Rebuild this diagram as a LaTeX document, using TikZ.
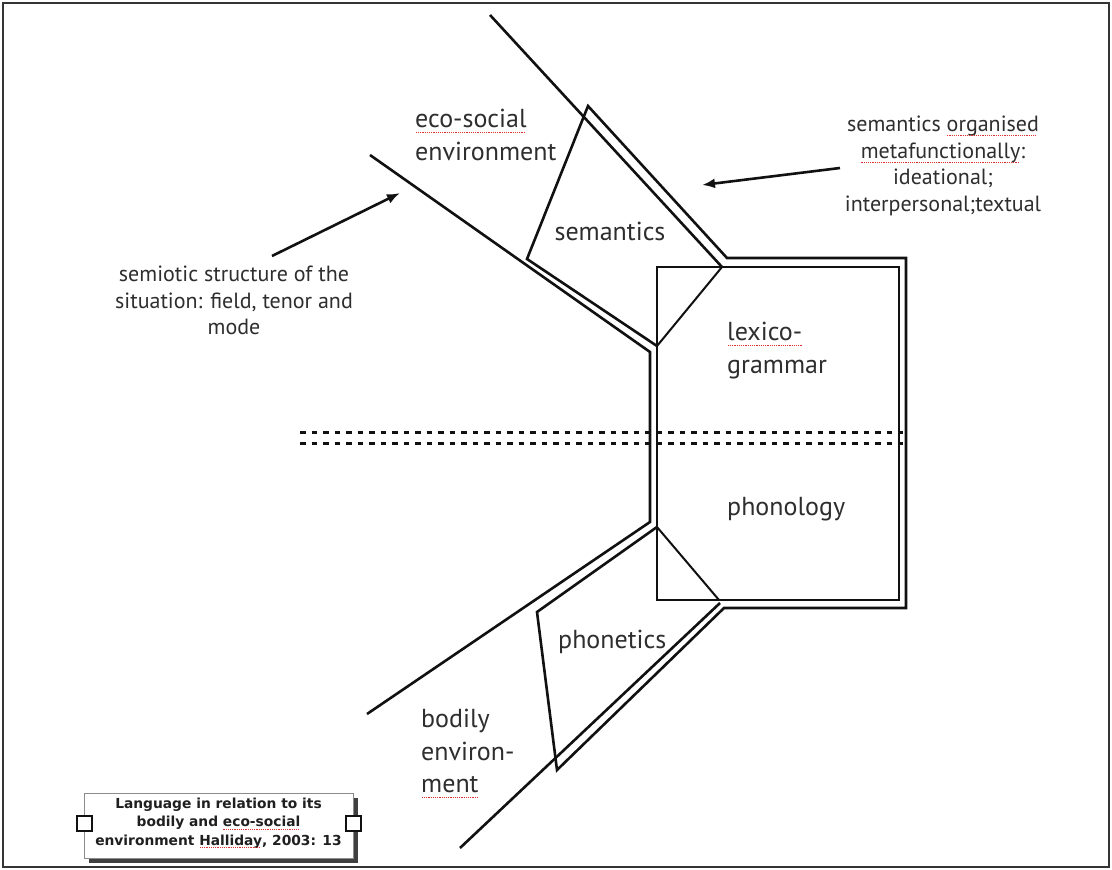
\documentclass[tikz,border=0pt]{standalone}
\usepackage{fontspec}
\setmainfont{PT Sans}
\newfontfamily\capfont{DejaVu Sans}
\usetikzlibrary{arrows.meta}
\definecolor{ink}{HTML}{111111}
\definecolor{txt}{HTML}{2E2E2E}
\definecolor{spellred}{HTML}{E03030}
\newsavebox\spellbox
% red dotted underline as left by a spell checker
\newcommand\misspelt[1]{\sbox\spellbox{#1}\rlap{\usebox\spellbox}\raisebox{-0.2em}{\textcolor{spellred}{\hbox to \wd\spellbox{\leaders\hbox to 2.2pt{\hss\rule{1.2pt}{0.8pt}\hss}\hfill}}}}
\tikzset{
  wall/.style={draw=ink, line width=2.6pt, line join=miter},
  thin/.style={draw=ink, line width=2pt},
  strata/.style={draw=ink, line width=3pt, dash pattern=on 5.5pt off 6pt},
  pointer/.style={draw=ink, line width=2.6pt, -{Latex[length=13pt,width=10pt]}},
  big/.style={inner sep=0pt, text=txt, font=\fontsize{26}{32.5}\selectfont},
  small/.style={inner sep=0pt, text=txt, font=\fontsize{22}{26.5}\selectfont, align=center},
  handle/.style={draw=ink, fill=white, line width=1.2pt},
}
\begin{document}
\begin{tikzpicture}[x=1pt,y=-1pt]
\useasboundingbox (0,0) rectangle (1112,870);
\fill[white] (0,0) rectangle (1112,870);
% frame
\draw[draw=ink!85, line width=1.6pt] (3,3) rectangle (1109,867);

% key points of the funnel
\coordinate (semL) at (527,259);
\coordinate (semTop) at (588,106);
\coordinate (semR) at (727,258);
\coordinate (boxTR) at (906,258);
\coordinate (boxBR) at (906,608);
\coordinate (phonR) at (724,608);
\coordinate (phonBot) at (557,770);
\coordinate (phonL) at (537,612);
\coordinate (midTop) at (657,346);
\coordinate (midBot) at (657,527);

% outer double wall, running round both quadrilaterals
\draw[wall] (midBot) -- (phonL) -- (phonBot) -- (phonR) -- (boxBR) -- (boxTR)
   -- (semR) -- (semTop) -- (semL) -- (midTop);

% left-hand wall of the language system
\draw[wall] (370,155) -- (650,352) -- (650,522) -- (367,714);

% right-hand lines reaching into the environment
\draw[wall] (490,15) -- (722,267);
\draw[wall] (460,848) -- (720,603);

% lexicogrammar and phonology box with its diagonals
\draw[thin] (657,267) rectangle (899,600);
\draw[thin] (722,267) -- (midTop);
\draw[thin] (midBot) -- (719,600);

% stratal boundary
\draw[strata] (300,432) -- (903,432);
\draw[strata] (300,443) -- (903,443);

% labels
\node[big, anchor=north west, align=left] (eco) at (415,109)
  {\misspelt{eco-social}\\environment};
\node[big, anchor=base] (sem) at (610,240) {semantics};
\node[big, anchor=north west, align=left] (lex) at (727,322)
  {\misspelt{lexico-}\\grammar};
\node[big, anchor=base west] (phonol) at (727,515) {phonology};
\node[big, anchor=base west] (phonet) at (558,648) {phonetics};
\node[big, anchor=north west, align=left] (body) at (421,709)
  {bodily\\environ-\\\misspelt{ment}};

\node[small, anchor=north] (meta) at (943,116)
  {semantics \misspelt{organised}\\\misspelt{metafunctionally}:\\ideational;\\interpersonal;textual};
\node[small, anchor=north] (sit) at (234,266)
  {semiotic structure of the\\situation: field, tenor and\\mode};

% pointers
\coordinate (sitTail) at (272,256);
\coordinate (sitHead) at (400,193);
\coordinate (metaTail) at (840,168);
\coordinate (metaHead) at (702,185);
\draw[pointer] (sitTail) -- (sitHead);
\draw[pointer] (metaTail) -- (metaHead);

% caption box with shadow and selection handles
\fill[black!75] (89,798) rectangle (358,863);
\draw[draw=black!45, fill=white, line width=1pt] (84,793) rectangle (353,858);
\node[inner sep=0pt, text=black!88, align=center, anchor=north,
      font=\fontsize{13.8}{18.5}\capfont\bfseries] (cap) at (218.5,797.5)
  {Language in relation to its\\bodily and \misspelt{eco-social}\\environment \misspelt{Halliday}, 2003: 13};
\draw[handle] (77,816) rectangle (92,831);
\draw[handle] (346,816) rectangle (361,831);
\end{tikzpicture}
\end{document}
